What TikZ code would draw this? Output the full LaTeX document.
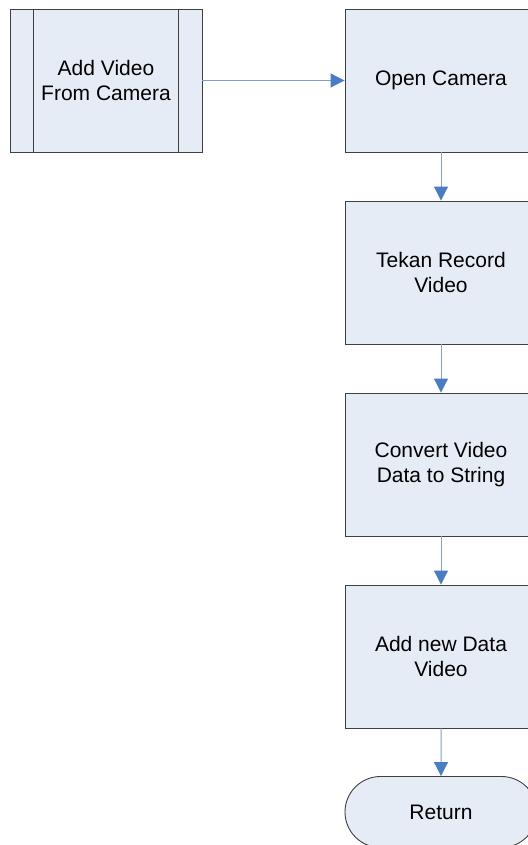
\documentclass[tikz,border=0pt]{standalone}
\usepackage{fontspec}
\setmainfont{Liberation Sans}
\usetikzlibrary{arrows.meta,shapes.misc}
\definecolor{boxfill}{HTML}{E6ECF6}
\definecolor{boxline}{HTML}{404040}
\definecolor{flowline}{HTML}{7E9ED3}
\definecolor{flowhead}{HTML}{4A7CC4}
\tikzset{
  procbox/.style={draw=boxline, fill=boxfill, line width=0.9pt,
    minimum width=192pt, minimum height=143pt, inner sep=0pt,
    align=center, font=\fontsize{21}{24.5}\selectfont},
  termbox/.style={draw=boxline, fill=boxfill, line width=0.9pt,
    rounded rectangle, minimum width=192pt, minimum height=71pt,
    inner sep=0pt, align=center, font=\fontsize{21}{24.5}\selectfont},
  flow/.style={draw=flowline, line width=1pt,
    -{Triangle[length=14pt,width=14pt,fill=flowhead,color=flowhead]}}
}
\begin{document}
\begin{tikzpicture}[x=1pt,y=-1pt]
  \useasboundingbox (0,0) rectangle (527,845);
  % predefined process on the left
  \node[procbox] (sub) at (106,80.5) {Add Video\\From Camera};
  \draw[boxline, line width=0.9pt] ([xshift=24pt]sub.north west) -- ([xshift=24pt]sub.south west);
  \draw[boxline, line width=0.9pt] ([xshift=-24pt]sub.north east) -- ([xshift=-24pt]sub.south east);
  % main column of steps, running past the right edge of the sheet
  \node[procbox] (open) at (441,80.5) {Open Camera};
  \node[procbox] (rec) at (441,272.5) {Tekan Record\\Video};
  \node[procbox] (conv) at (441,464.5) {Convert Video\\Data to String};
  \node[procbox] (add) at (441,656.5) {Add new Data\\Video};
  \node[termbox] (ret) at (441,812) {Return};
  % connectors
  \draw[flow] (sub) -- (open);
  \draw[flow] (open) -- (rec);
  \draw[flow] (rec) -- (conv);
  \draw[flow] (conv) -- (add);
  \draw[flow] (add) -- (ret);
\end{tikzpicture}
\end{document}
